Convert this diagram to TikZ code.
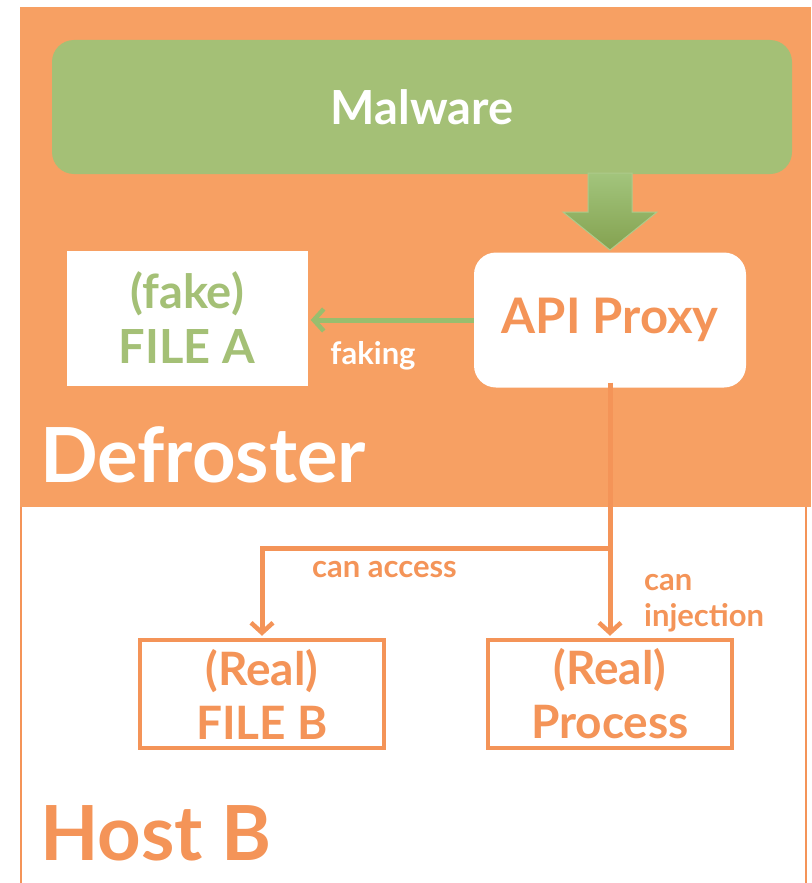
\documentclass[tikz,border=0pt]{standalone}
\usepackage{fontspec}
\setmainfont{Lato}
\usetikzlibrary{arrows.meta,shadings}
\definecolor{dfOrange}{RGB}{247,160,99}
\definecolor{txOrange}{RGB}{244,148,88}
\definecolor{mwGreen}{RGB}{164,192,118}
\definecolor{arGreen}{RGB}{152,190,110}
\definecolor{arDark}{RGB}{132,162,80}
\begin{document}
\begin{tikzpicture}[x=1pt,y=-1pt,
  every node/.style={font=\bfseries, inner sep=0pt},
  whitebox/.style={fill=white, minimum width=272, minimum height=135, rounded corners=22},
  filebox/.style={fill=white, minimum width=241, minimum height=135},
  realbox/.style={draw=txOrange, line width=4.5, minimum width=244, minimum height=108, text=txOrange, align=center, font=\bfseries\fontsize{46}{54}\selectfont},
  oline/.style={draw=txOrange, line width=5},
  oarrow/.style={oline, -{Straight Barb[length=10pt,width=22pt,line width=4.5pt]}},
  garrow/.style={draw=arGreen, line width=5, -{Straight Barb[length=10pt,width=22pt,line width=4.5pt]}},
  lbl/.style={font=\bfseries\fontsize{31}{36}\selectfont}
]
\useasboundingbox (0,0) rectangle (811,883);
% Host B box
\fill[white] (0,0) rectangle (811,883);
\draw[txOrange, line width=2] (21,507) -- (21,890);
\draw[txOrange, line width=2] (806,507) -- (806,890);
% Defroster area
\fill[dfOrange] (20,7) rectangle (811,507);
% Malware
\node[fill=mwGreen, minimum width=740, minimum height=134, rounded corners=22,
      text=white, font=\bfseries\fontsize{47}{50}\selectfont] (malware) at (422,107) {Malware};
% API Proxy
\node[whitebox, text=txOrange, font=\bfseries\fontsize{49}{52}\selectfont] (proxy) at (610,320) {API Proxy};
% fake file A
\node[filebox, text=mwGreen, align=center, font=\bfseries\fontsize{47}{55}\selectfont] (fileA) at (187,318) {(fake)\\FILE A};
% fat green arrow
\shade[top color=arGreen!90!white, bottom color=arDark, draw=arGreen!80!white, line width=1]
  (588,173) -- (632,173) -- (632,212) -- (657,212) -- (610,250) -- (563,212) -- (588,212) -- cycle;
% faking arrow
\draw[garrow] (proxy.west) -- ([xshift=3]fileA.east |- proxy.west);
\node[lbl, text=white] (faking) at (373,356) {faking};
% Defroster label
\node[anchor=base west, text=white, font=\bfseries\fontsize{76}{78}\selectfont] (defroster) at (40,482) {Defroster};
% real boxes
\node[realbox] (fileB) at (262,694) {(Real)\\FILE B};
\node[realbox] (process) at (610,694) {(Real)\\Process};
% orange connectors
\coordinate (j) at (610,548);
\coordinate (jl) at (262,548);
\draw[oline] ([yshift=5]proxy.south) -- (j);
\draw[oarrow] (j) -- (jl) -- ([yshift=2]fileB.north);
\draw[oarrow] (j) -- ([yshift=2]process.north);
\node[lbl, text=txOrange, anchor=west] (canaccess) at (312,570) {can access};
\node[lbl, text=txOrange, anchor=west, align=left, font=\bfseries\fontsize{31}{36}\selectfont] (caninj) at (644,603) {can\\injection};
% Host B label
\node[anchor=base west, text=txOrange, font=\bfseries\fontsize{76}{78}\selectfont] (hostb) at (40,860) {Host B};
\end{tikzpicture}
\end{document}
